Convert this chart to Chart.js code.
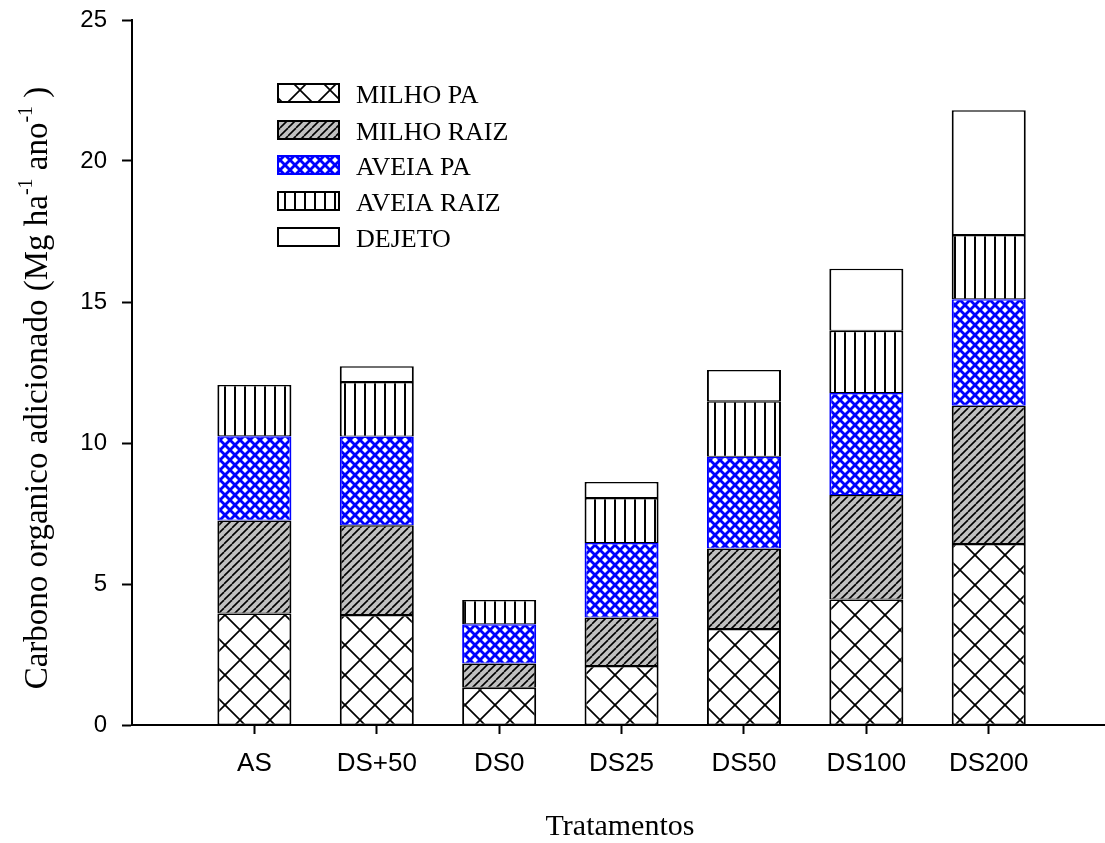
<!DOCTYPE html>
<html><head><meta charset="utf-8">
<script src="https://cdn.jsdelivr.net/npm/chart.js@4.4.1/dist/chart.umd.min.js"></script>
<style>html,body{margin:0;padding:0;background:#fff}#wrap{width:1105px;height:843px;position:relative}</style>
</head><body><div id="wrap"><canvas id="c" width="1105" height="843"></canvas></div>
<script>
const categories = ['AS','DS+50','DS0','DS25','DS50','DS100','DS200'];
const milhoPA   = [3.95, 3.90, 1.32, 2.09, 3.40, 4.45, 6.42];
const milhoRaiz = [3.30, 3.18, 0.86, 1.72, 2.86, 3.71, 4.90];
const aveiaPA   = [2.99, 3.15, 1.39, 2.64, 3.25, 3.61, 3.78];
const aveiaRaiz = [1.82, 1.93, 0.86, 1.60, 1.97, 2.21, 2.28];
const dejeto    = [null, 0.56, null, 0.57, 1.11, 2.20, 4.42];
const seriesNames = ['MILHO PA','MILHO RAIZ','AVEIA PA','AVEIA RAIZ','DEJETO'];
const yTicks = [0, 5, 10, 15, 20, 25];
const yTitleParts = [['Carbono organico adicionado (Mg ha', false], ['-1', true], [' ano', false], ['-1', true], [' )', false]];
const xTitle = 'Tratamentos';

const canvas = document.getElementById('c');
const mainCtx = canvas.getContext('2d');
function makePattern(size, draw) {
  const t = document.createElement('canvas');
  t.width = size; t.height = size;
  const g = t.getContext('2d');
  draw(g, size);
  return mainCtx.createPattern(t, 'repeat');
}
const patCross = makePattern(30, (g, s) => {
  g.fillStyle = '#fff'; g.fillRect(0, 0, s, s);
  g.strokeStyle = '#000'; g.lineWidth = 1.7;
  for (const k of [-s, 0, s]) {
    g.beginPath(); g.moveTo(k, 0); g.lineTo(k + s, s); g.stroke();
    g.beginPath(); g.moveTo(k + s, 0); g.lineTo(k, s); g.stroke();
  }
});
const patDiag = makePattern(8, (g, s) => {
  g.fillStyle = '#c0c0c0'; g.fillRect(0, 0, s, s);
  g.strokeStyle = '#000'; g.lineWidth = 1.6;
  for (const k of [-s, 0, s]) {
    g.beginPath(); g.moveTo(k, s); g.lineTo(k + s, 0); g.stroke();
  }
});
const patBlue = makePattern(10, (g, s) => {
  g.fillStyle = '#fff'; g.fillRect(0, 0, s, s);
  g.strokeStyle = '#0000ff'; g.lineWidth = 2.8;
  for (const k of [-s, 0, s]) {
    g.beginPath(); g.moveTo(k, 0); g.lineTo(k + s, s); g.stroke();
    g.beginPath(); g.moveTo(k + s, 0); g.lineTo(k, s); g.stroke();
  }
});
const patVert = makePattern(10, (g, s) => {
  g.fillStyle = '#fff'; g.fillRect(0, 0, s, s);
  g.fillStyle = '#000'; g.fillRect(4, 0, 2, s);
});

const fills = [patCross, patDiag, patBlue, patVert, '#ffffff'];
const borders = ['#000', '#000', '#0000ff', '#000', '#000'];
const seriesValues = [milhoPA, milhoRaiz, aveiaPA, aveiaRaiz, dejeto];

const datasets = seriesValues.map((vals, si) => ({
  label: seriesNames[si],
  data: vals.map((v, i) => ({ x: i + 1, y: v })),
  backgroundColor: fills[si],
  borderColor: borders[si],
  borderWidth: { top: 1.5, bottom: 1, left: 2, right: 2 },
  borderSkipped: false,
  categoryPercentage: 1,
  barPercentage: 0.605
}));

const overlay = {
  id: 'overlay',
  afterDraw(chart) {
    const ctx = chart.ctx;
    ctx.save();
    const boxY = [83, 120, 155, 191, 227];
    seriesNames.forEach((name, i) => {
      const x = 277, y = boxY[i], w = 63, h = 20;
      ctx.fillStyle = fills[i];
      ctx.fillRect(x, y, w, h);
      ctx.strokeStyle = borders[i];
      ctx.lineWidth = 2;
      ctx.strokeRect(x + 1, y + 1, w - 2, h - 2);
      ctx.fillStyle = '#000';
      ctx.font = '26px "Liberation Serif", "Times New Roman", serif';
      ctx.textAlign = 'left';
      ctx.textBaseline = 'alphabetic';
      ctx.fillText(name, 356, y + h);
    });
    ctx.font = '30px "Liberation Serif", "Times New Roman", serif';
    ctx.textAlign = 'center';
    ctx.fillText(xTitle, 620, 835);
    ctx.translate(47, 388);
    ctx.rotate(-Math.PI / 2);
    const nf = '33px "Liberation Serif", "Times New Roman", serif';
    const sf = '20px "Liberation Serif", "Times New Roman", serif';
    let total = 0;
    yTitleParts.forEach(([t, sup]) => { ctx.font = sup ? sf : nf; total += ctx.measureText(t).width; });
    let cx = -total / 2;
    ctx.textAlign = 'left';
    yTitleParts.forEach(([t, sup]) => {
      ctx.font = sup ? sf : nf;
      ctx.fillText(t, cx, sup ? -15 : 0);
      cx += ctx.measureText(t).width;
    });
    ctx.restore();
  }
};

new Chart(canvas, {
  type: 'bar',
  data: { datasets },
  plugins: [overlay],
  options: {
    responsive: false,
    animation: false,
    devicePixelRatio: 1,
    layout: { padding: { top: 20, left: 0, right: 0, bottom: 0 } },
    plugins: { legend: { display: false }, tooltip: { enabled: false } },
    scales: {
      x: {
        type: 'linear', stacked: true, min: 0, max: 7.95, offset: false,
        afterBuildTicks: s => { s.ticks = categories.map((c, i) => ({ value: i + 1 })); },
        afterFit: s => { s.height = 118; s.paddingLeft = 0; s.paddingRight = 0; },
        ticks: {
          callback: v => categories[v - 1] ?? '',
          color: '#000', font: { family: '"Liberation Sans", Arial, sans-serif', size: 26 },
          padding: 14, maxRotation: 0, autoSkip: false
        },
        grid: { offset: false, drawOnChartArea: false, drawTicks: true, tickLength: 9, tickColor: '#000', tickWidth: 2 },
        border: { display: true, color: '#000', width: 2 }
      },
      y: {
        stacked: true, min: 0, max: 25,
        afterBuildTicks: s => { s.ticks = yTicks.map(v => ({ value: v })); },
        afterFit: s => { s.width = 132; s.paddingTop = 0; s.paddingBottom = 0; },
        ticks: { color: '#000', font: { family: '"Liberation Sans", Arial, sans-serif', size: 24 }, padding: 15 },
        grid: { drawOnChartArea: false, drawTicks: true, tickLength: 10, tickColor: '#000', tickWidth: 2 },
        border: { display: true, color: '#000', width: 2 }
      }
    }
  }
});
</script>
</body></html>
